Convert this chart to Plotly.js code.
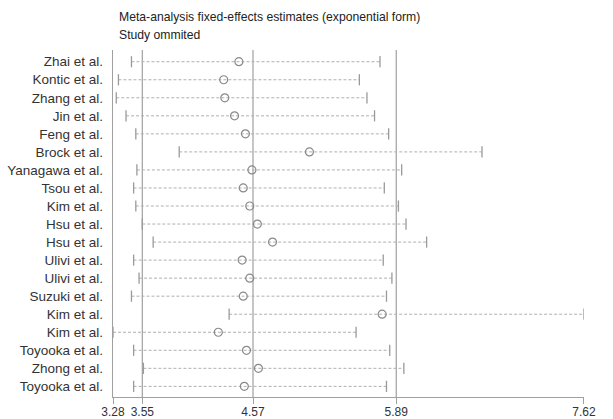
<!DOCTYPE html>
<html>
<head>
<meta charset="utf-8">
<script src="https://cdn.plot.ly/plotly-3.0.1.min.js"></script>
<style>html,body{margin:0;padding:0;background:#fff}#chart{width:613px;height:419px}</style>
</head>
<body>
<div id="chart"></div>
<script>
const studies = ["Zhai et al.","Kontic et al.","Zhang et al.","Jin et al.","Feng et al.","Brock et al.","Yanagawa et al.","Tsou et al.","Kim et al.","Hsu et al.","Hsu et al.","Ulivi et al.","Ulivi et al.","Suzuki et al.","Kim et al.","Kim et al.","Toyooka et al.","Zhong et al.","Toyooka et al."];
const estimate = [4.44,4.30,4.31,4.40,4.50,5.09,4.56,4.48,4.54,4.61,4.75,4.47,4.54,4.48,5.76,4.25,4.51,4.62,4.49];
const lower = [3.45,3.33,3.31,3.40,3.49,3.89,3.50,3.47,3.49,3.55,3.65,3.47,3.52,3.45,4.35,3.28,3.47,3.56,3.47];
const upper = [5.74,5.55,5.62,5.69,5.82,6.68,5.94,5.78,5.91,5.98,6.17,5.77,5.85,5.80,7.62,5.52,5.83,5.96,5.80];
const xTicks = [3.28,3.55,4.57,5.89,7.62];
const xTickText = ["3.28","3.55","4.57","5.89","7.62"];
const refLines = [3.55,4.57,5.89];
const titleLines = ["Meta-analysis fixed-effects estimates (exponential form)","Study ommited"];

const idx = studies.map((_, i) => i);
const ciX = [], ciY = [];
lower.forEach((lo, i) => { ciX.push(lo, upper[i], null); ciY.push(i, i, null); });
const capX = lower.concat(upper);
const capY = idx.concat(idx);

const grey = '#9a9a9a';
const traces = [
  {x: ciX, y: ciY, mode: 'lines', line: {color: '#b0b0b0', width: 1, dash: '3px,2px'}, hoverinfo: 'skip', showlegend: false},
  {x: capX, y: capY, mode: 'markers', marker: {symbol: 'line-ns', size: 8, line: {color: grey, width: 1.3}}, showlegend: false},
  {x: estimate, y: idx, mode: 'markers', marker: {symbol: 'circle-open', size: 8, color: '#8a8a8a', line: {width: 1.2}}, showlegend: false}
];

const shapes = refLines.map(v => ({type: 'line', xref: 'x', yref: 'paper', x0: v, x1: v, y0: 0, y1: 1, line: {color: '#a0a0a0', width: 1.2}, layer: 'below'}));

const layout = {
  width: 613, height: 419,
  margin: {l: 113, r: 29, t: 50, b: 22},
  paper_bgcolor: '#fff', plot_bgcolor: '#fff',
  font: {family: 'Liberation Sans, Arial, sans-serif', color: '#333'},
  showlegend: false,
  xaxis: {range: [3.2799, 7.6201], tickvals: xTicks, ticktext: xTickText, showgrid: false, zeroline: false,
          showline: true, linecolor: '#a0a0a0', linewidth: 1.2, ticks: 'outside', ticklen: 6, tickcolor: '#a0a0a0',
          ticklabelstandoff: -3, tickfont: {size: 12, color: '#333'}},
  yaxis: {range: [18.59, -0.65], tickvals: idx, ticktext: studies, showgrid: false, zeroline: false,
          showline: true, linecolor: '#a0a0a0', linewidth: 1.2, ticks: 'outside', ticklen: 6, tickcolor: 'rgba(0,0,0,0)',
          tickfont: {size: 13.5, color: '#333'}},
  shapes: shapes,
  annotations: titleLines.map((t, i) => ({text: t, xref: 'paper', yref: 'paper', x: 0.0085, xanchor: 'left', y: 1, yanchor: 'middle', yshift: 33 - 18 * i, showarrow: false, font: {size: 12.2, color: '#222'}}))
};

Plotly.newPlot('chart', traces, layout, {staticPlot: true, displayModeBar: false});
</script>
</body>
</html>
